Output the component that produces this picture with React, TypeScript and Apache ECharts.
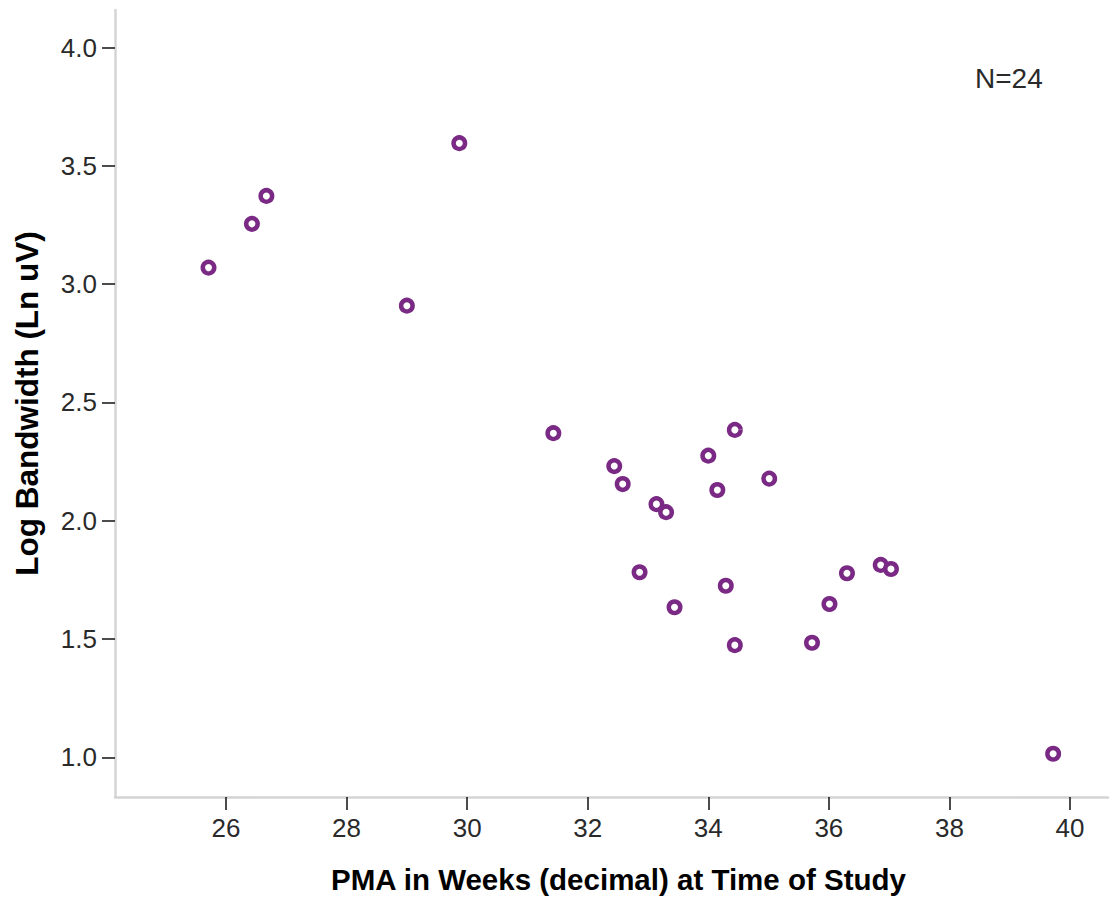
import React, { useEffect, useRef } from "react";
import * as echarts from "echarts";

const pmaWeeks = [
  25.71, 26.43, 26.67, 29.87, 29.0, 31.43, 32.44, 32.58, 33.14, 33.3, 34.0, 34.44,
  34.15, 35.01, 32.86, 33.44, 34.29, 34.44, 35.72, 36.01, 36.3, 36.86, 37.03, 39.72,
];
const logBandwidth = [
  3.07, 3.255, 3.373, 3.596, 2.909, 2.37, 2.231, 2.155, 2.07, 2.036, 2.275, 2.384,
  2.13, 2.178, 1.782, 1.634, 1.725, 1.474, 1.484, 1.648, 1.778, 1.813, 1.796, 1.015,
];
const xTickValues = [26, 28, 30, 32, 34, 36, 38, 40];
const yTickValues = [1.0, 1.5, 2.0, 2.5, 3.0, 3.5, 4.0];
const xTitle = "PMA in Weeks (decimal) at Time of Study";
const yTitle = "Log Bandwidth (Ln uV)";
const annotation = "N=24";

export default function App() {
  const ref = useRef<HTMLDivElement>(null);
  useEffect(() => {
    if (!ref.current) return;
    const chart = echarts.init(ref.current, undefined, { renderer: "svg" });
    const points = pmaWeeks.map((x, i) => [x, logBandwidth[i]]);
    const font = "'Liberation Sans', Arial, sans-serif";
    chart.setOption({
      animation: false,
      backgroundColor: "#ffffff",
      grid: { left: 115, right: 3, top: 10, bottom: 102, containLabel: false },
      xAxis: {
        type: "value",
        min: 24.159,
        max: 40.63,
        name: xTitle,
        nameLocation: "middle",
        nameGap: 67,
        nameTextStyle: {
          fontFamily: font,
          fontSize: 29.5,
          fontWeight: "bold",
          color: "#000",
          padding: [0, 0, 0, 14],
        },
        axisLine: { show: true, onZero: false, lineStyle: { color: "#d4d4d4", width: 2.5 } },
        axisTick: { show: true, length: 13, customValues: xTickValues, lineStyle: { color: "#111", width: 1.5 } },
        axisLabel: {
          customValues: xTickValues,
          margin: 18,
          fontFamily: font,
          fontSize: 26,
          color: "#2a2a2a",
        },
        splitLine: { show: false },
      },
      yAxis: {
        type: "value",
        min: 0.832,
        max: 4.159,
        name: yTitle,
        nameLocation: "middle",
        nameGap: 72,
        nameRotate: 90,
        nameTextStyle: { fontFamily: font, fontSize: 31.5, fontWeight: "bold", color: "#000" },
        axisLine: { show: true, onZero: false, lineStyle: { color: "#d4d4d4", width: 2.5 } },
        axisTick: { show: true, length: 13, customValues: yTickValues, lineStyle: { color: "#111", width: 1.5 } },
        axisLabel: {
          customValues: yTickValues,
          margin: 18,
          fontFamily: font,
          fontSize: 26,
          color: "#2a2a2a",
          formatter: (v: number) => v.toFixed(1),
        },
        splitLine: { show: false },
      },
      graphic: [
        {
          type: "text",
          left: 975,
          top: 64,
          style: { text: annotation, fontFamily: font, fontSize: 28, fill: "#2a2a2a" },
        },
      ],
      series: [
        {
          type: "scatter",
          data: points,
          symbol: "circle",
          symbolSize: 11.5,
          itemStyle: { color: "#ffffff", borderColor: "#7a2a84", borderWidth: 4.5, opacity: 1 },
        },
      ],
    });
    return () => chart.dispose();
  }, []);
  return (
    <div
      ref={ref}
      style={{ position: "absolute", left: 0, top: 0, width: 1111, height: 899 }}
    />
  );
}
